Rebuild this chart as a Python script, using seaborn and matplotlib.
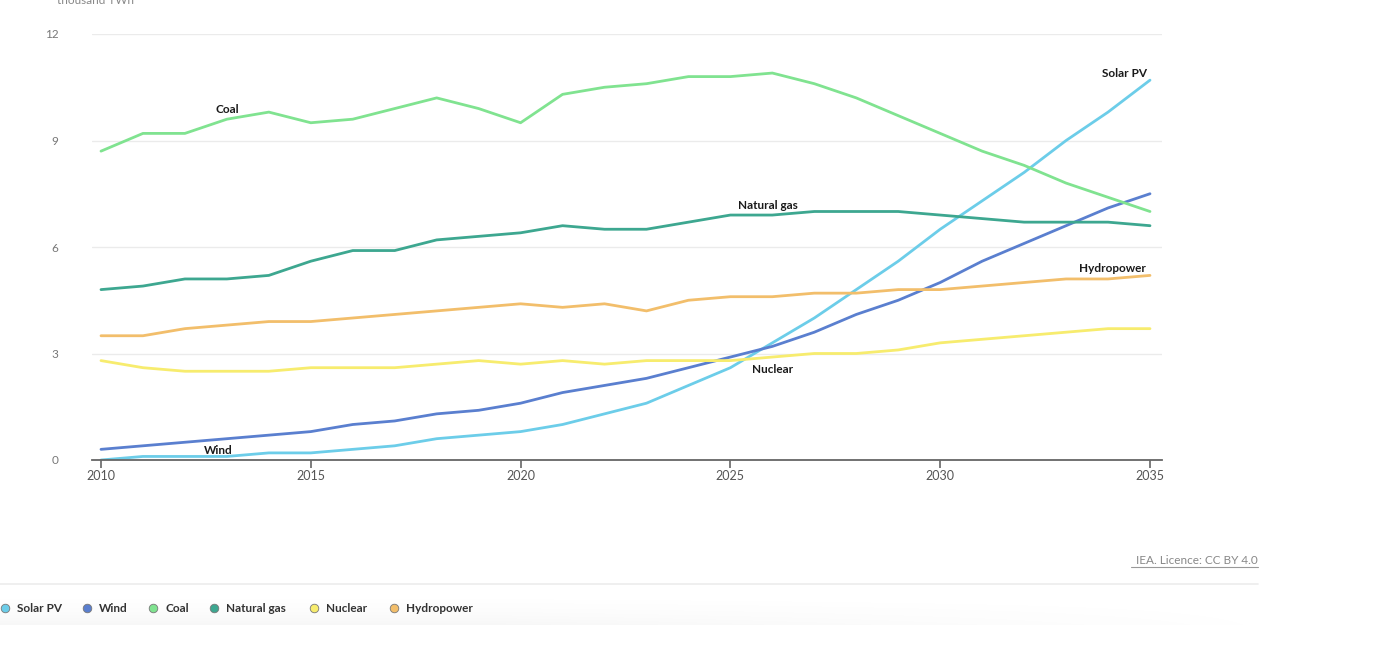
import numpy as np
import pandas as pd
import matplotlib
matplotlib.use("Agg")
import matplotlib.pyplot as plt
import seaborn as sns

years = list(range(2010, 2036))

solar_pv = [0.0, 0.1, 0.1, 0.1, 0.2, 0.2, 0.3, 0.4, 0.6, 0.7, 0.8, 1.0, 1.3,
            1.6, 2.1, 2.6, 3.3, 4.0, 4.8, 5.6, 6.5, 7.3, 8.1, 9.0, 9.8, 10.7]
wind = [0.3, 0.4, 0.5, 0.6, 0.7, 0.8, 1.0, 1.1, 1.3, 1.4, 1.6, 1.9, 2.1,
        2.3, 2.6, 2.9, 3.2, 3.6, 4.1, 4.5, 5.0, 5.6, 6.1, 6.6, 7.1, 7.5]
coal = [8.7, 9.2, 9.2, 9.6, 9.8, 9.5, 9.6, 9.9, 10.2, 9.9, 9.5, 10.3, 10.5,
        10.6, 10.8, 10.8, 10.9, 10.6, 10.2, 9.7, 9.2, 8.7, 8.3, 7.8, 7.4, 7.0]
natural_gas = [4.8, 4.9, 5.1, 5.1, 5.2, 5.6, 5.9, 5.9, 6.2, 6.3, 6.4, 6.6, 6.5,
               6.5, 6.7, 6.9, 6.9, 7.0, 7.0, 7.0, 6.9, 6.8, 6.7, 6.7, 6.7, 6.6]
nuclear = [2.8, 2.6, 2.5, 2.5, 2.5, 2.6, 2.6, 2.6, 2.7, 2.8, 2.7, 2.8, 2.7,
           2.8, 2.8, 2.8, 2.9, 3.0, 3.0, 3.1, 3.3, 3.4, 3.5, 3.6, 3.7, 3.7]
hydropower = [3.5, 3.5, 3.7, 3.8, 3.9, 3.9, 4.0, 4.1, 4.2, 4.3, 4.4, 4.3, 4.4,
              4.2, 4.5, 4.6, 4.6, 4.7, 4.7, 4.8, 4.8, 4.9, 5.0, 5.1, 5.1, 5.2]

series_names = ["Solar PV", "Wind", "Coal", "Natural gas", "Nuclear", "Hydropower"]
colors = ["#6ccde9", "#5a7fcf", "#80e390", "#3da790", "#f7ec6e", "#f2be6b"]

# label positions (x in years, y in thousand TWh)
label_x = [2034.4, 2012.8, 2013.0, 2025.9, 2026.0, 2034.1]
label_y = [10.9, 0.28, 9.86, 7.18, 2.56, 5.4]

df = pd.DataFrame({"year": years, "Solar PV": solar_pv, "Wind": wind, "Coal": coal,
                   "Natural gas": natural_gas, "Nuclear": nuclear,
                   "Hydropower": hydropower})
long = df.melt(id_vars="year", var_name="source", value_name="twh")

sns.set_theme(style="white")
plt.rcParams["font.family"] = ["Lato", "DejaVu Sans"]

W, H = 1384, 646
fig = plt.figure(figsize=(W / 100, H / 100), dpi=100)
ax = fig.add_axes([92 / W, 1 - 460 / H, (1162 - 92) / W, (460 - 34) / H])

sns.lineplot(data=long, x="year", y="twh", hue="source", hue_order=series_names,
             palette=colors, linewidth=2, ax=ax, legend=False)

ax.set_xlim(2010 - 9 / 41.96, 2035 + 12 / 41.96)
ax.set_ylim(0, 12)
ax.set_xticks([2010, 2015, 2020, 2025, 2030, 2035])
ax.set_yticks([0, 3, 6, 9, 12])
ax.set_xlabel("")
ax.set_ylabel("")
ax.grid(axis="y", color="#ebebeb", linewidth=1)
ax.set_axisbelow(True)
for s in ["top", "right", "left"]:
    ax.spines[s].set_visible(False)
ax.spines["bottom"].set_color("#666666")
ax.spines["bottom"].set_linewidth(1.3)
ax.tick_params(axis="x", bottom=True, length=6, width=1.2, color="#666666",
               labelsize=9, labelcolor="#555555", pad=1)
ax.tick_params(axis="y", left=False, labelsize=8.5, labelcolor="#777777", pad=18)

for name, lx, ly in zip(series_names, label_x, label_y):
    ax.text(lx, ly, name, ha="center", va="center", fontsize=8.5,
            fontweight="bold", color="#1a1a1a")

fig.text(57 / W, 1 - 1 / H, "thousand TWh", ha="left", va="center",
         fontsize=8.5, color="#888888")

# overlay in pixel coords for footer
ov = fig.add_axes([0, 0, 1, 1], zorder=-1)
ov.set_xlim(0, W)
ov.set_ylim(H, 0)
ov.axis("off")

ov.text(1258, 561, "IEA. Licence: CC BY 4.0", ha="right", va="center",
        fontsize=8.5, color="#888888")
ov.plot([1131, 1258], [567, 567], color="#999999", linewidth=0.8)
ov.plot([0, 1258], [584, 584], color="#ececec", linewidth=1.2)

# faint shadow under legend bar
grad = np.linspace(0, 1, 40).reshape(-1, 1)
shade = np.ones((40, 200, 4))
xfade = np.clip(np.linspace(1.6, 0, 200), 0, 1)
alpha = (grad ** 2) * 0.06 * xfade[None, :]
shade[..., 0:3] = 0.5
shade[..., 3] = alpha
ov.imshow(shade, extent=[0, 1300, 625, 590], aspect="auto", interpolation="bilinear")

leg_marker_x = [5, 87, 153, 214, 314, 394]
for name, col, mx in zip(series_names, colors, leg_marker_x):
    ov.scatter([mx], [608], s=38, color=col, edgecolor="#777777", linewidth=0.6)
    ov.text(mx + 12, 608, name, ha="left", va="center", fontsize=8.5,
            fontweight="bold", color="#333333")

fig.savefig("out.png", dpi=100)
